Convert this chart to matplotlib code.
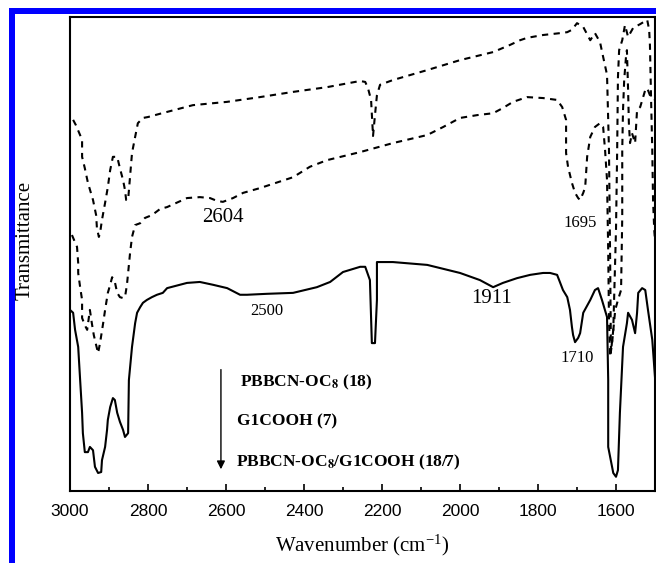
import matplotlib
matplotlib.use('Agg')
import matplotlib.pyplot as plt
from matplotlib.patches import Rectangle
from matplotlib.ticker import MultipleLocator

plt.rcParams['mathtext.fontset'] = 'stix'

# PBBCN-OC8 (top, dashed)
top_wn = [2992, 2985, 2969, 2969, 2962, 2954, 2941, 2933, 2931, 2926, 2923, 2918, 2910, 2903, 2897,
          2890, 2879, 2872, 2864, 2859, 2856, 2851, 2841, 2833, 2826, 2813, 2800, 2764, 2685, 2597,
          2513, 2428, 2341, 2256, 2243, 2236, 2228, 2223, 2218, 2213, 2205, 2172, 2084, 2000, 1915,
          1872, 1846, 1828, 1787, 1743, 1725, 1713, 1700, 1684, 1666, 1654, 1641, 1633, 1623, 1618,
          1615, 1613, 1607, 1600, 1597, 1595, 1592, 1584, 1577, 1569, 1556, 1538, 1520, 1515, 1513,
          1510, 1507, 1505, 1502, 1500]
top_t = [78.3, 77.2, 74.1, 70.5, 68.1, 65.0, 61.4, 58.2, 55.5, 53.6, 54.4, 57.2, 60.8, 64.1, 67.7,
         70.5, 70.5, 68.1, 65.6, 63.5, 61.4, 61.4, 71.3, 74.7, 77.6, 78.7, 78.9, 79.7, 81.4, 82.1,
         83.1, 84.2, 85.2, 86.5, 86.3, 85.0, 82.5, 74.9, 79.3, 83.5, 85.7, 86.7, 88.8, 90.9, 92.6,
         94.1, 95.1, 95.6, 96.2, 96.6, 96.8, 97.3, 98.7, 97.9, 95.1, 96.6, 94.7, 91.6, 87.8, 71.9,
         48.7, 29.3, 34.0, 55.1, 71.9, 87.3, 93.0, 95.1, 98.3, 95.8, 97.7, 98.5, 99.4, 97.3, 94.1,
         82.5, 71.9, 61.4, 55.1, 53.0]

# G1COOH (middle, dashed)
mid_wn = [2995, 2982, 2979, 2979, 2974, 2969, 2969, 2962, 2956, 2949, 2944, 2939, 2933, 2928, 2923,
          2915, 2910, 2903, 2897, 2892, 2885, 2879, 2872, 2864, 2859, 2854, 2851, 2846, 2841, 2833,
          2820, 2808, 2790, 2769, 2751, 2700, 2667, 2641, 2623, 2608, 2582, 2556, 2513, 2428, 2385,
          2341, 2256, 2172, 2084, 2043, 2000, 1956, 1915, 1890, 1864, 1828, 1787, 1751, 1738, 1728,
          1728, 1723, 1713, 1705, 1697, 1692, 1684, 1679, 1674, 1666, 1654, 1641, 1633, 1628, 1623,
          1620, 1618, 1615, 1610, 1602, 1595, 1587, 1584, 1584, 1582, 1579, 1574, 1572, 1569, 1567,
          1564, 1559, 1551, 1546, 1538, 1525, 1520, 1513, 1500]
mid_t = [54.0, 51.5, 48.1, 46.0, 43.0, 40.3, 36.5, 35.0, 34.0, 38.2, 35.4, 32.9, 30.8, 29.1, 31.2,
         35.4, 38.2, 41.8, 43.5, 45.1, 44.1, 41.8, 40.9, 40.7, 40.9, 43.5, 46.0, 50.2, 53.6, 56.1,
         56.5, 57.6, 58.2, 59.5, 59.9, 61.8, 62.0, 61.8, 61.2, 61.0, 61.8, 62.9, 63.9, 66.2, 68.4,
         69.8, 71.5, 73.4, 75.1, 76.8, 78.7, 79.3, 79.7, 80.8, 82.1, 83.1, 82.9, 82.5, 81.0, 78.3,
         71.3, 68.4, 65.0, 62.9, 61.8, 61.4, 62.9, 64.1, 70.5, 74.7, 76.8, 77.6, 76.8, 71.9, 65.6,
         50.8, 36.1, 28.3, 31.2, 38.2, 40.3, 42.4, 57.8, 71.9, 80.4, 86.7, 92.0, 93.0, 84.6, 77.6,
         73.4, 75.5, 73.4, 80.4, 81.0, 84.6, 85.0, 83.5, 82.5]

# PBBCN-OC8/G1COOH (18/7) (bottom, solid)
blend_wn = [3000, 2992, 2987, 2979, 2974, 2969, 2967, 2962, 2954, 2949, 2941, 2936, 2928, 2920, 2918,
            2910, 2905, 2903, 2897, 2890, 2885, 2879, 2872, 2864, 2859, 2851, 2849, 2841, 2833, 2828,
            2820, 2813, 2803, 2790, 2777, 2762, 2751, 2700, 2667, 2633, 2597, 2564, 2546, 2495, 2428,
            2367, 2333, 2300, 2256, 2243, 2231, 2226, 2218, 2213, 2213, 2172, 2084, 2000, 1949, 1915,
            1890, 1854, 1820, 1787, 1769, 1751, 1743, 1736, 1725, 1718, 1713, 1710, 1705, 1697, 1692,
            1684, 1666, 1654, 1646, 1636, 1623, 1620, 1620, 1607, 1600, 1595, 1590, 1582, 1572, 1569,
            1559, 1551, 1546, 1543, 1533, 1525, 1518, 1507, 1500]
blend_t = [38.2, 37.6, 34.0, 30.4, 23.4, 16.5, 12.2, 8.2, 8.2, 9.3, 8.6, 5.1, 3.8, 4.0, 6.5,
           9.3, 12.9, 15.0, 17.7, 19.6, 19.2, 16.5, 14.6, 12.9, 11.4, 12.2, 23.4, 30.4, 35.4, 37.6,
           38.8, 39.7, 40.3, 40.9, 41.4, 41.8, 42.8, 43.9, 44.1, 43.5, 42.8, 41.4, 41.4, 41.6, 41.8,
           43.0, 44.1, 46.2, 47.3, 47.3, 44.5, 31.2, 31.2, 40.3, 48.3, 48.3, 47.7, 46.0, 44.5, 43.0,
           43.9, 44.9, 45.6, 46.0, 46.0, 45.6, 43.9, 42.4, 40.9, 38.2, 34.6, 32.9, 31.4, 32.3, 33.3,
           37.6, 40.3, 42.4, 42.8, 40.3, 36.7, 23.4, 9.3, 3.8, 3.0, 4.4, 16.5, 30.4, 35.4, 37.6,
           36.1, 33.3, 37.6, 41.8, 42.8, 42.4, 38.2, 31.9, 24.0]

peak_labels = ['2604', '1695', '2500', '1911', '1710']
peak_x = [2608, 1692, 2495, 1918, 1700]
peak_y = [57.8, 56.5, 38.0, 40.7, 28.1]
peak_size = [15, 12, 12, 15, 12]

sample_names = ['PBBCN-OC$_{\\mathbf{8}}$ (18)', 'G1COOH (7)',
                'PBBCN-OC$_{\\mathbf{8}}$/G1COOH (18/7)']

serif = 'Liberation Serif'
sans = 'Liberation Sans'

fig = plt.figure(figsize=(6.56, 5.63), dpi=100)
ax = fig.add_axes([70/656, 72/563, 585/656, 474/563])

dash = (0, (3.0, 2.6))
ax.plot(top_wn, top_t, color='black', lw=1.5, linestyle=dash)
ax.plot(mid_wn, mid_t, color='black', lw=1.5, linestyle=dash)
ax.plot(blend_wn, blend_t, color='black', lw=1.5)

ax.set_xlim(3000, 1500)
ax.set_ylim(0, 100)
ax.xaxis.set_major_locator(MultipleLocator(200))
ax.xaxis.set_minor_locator(MultipleLocator(100))
ax.set_yticks([])
ax.tick_params(axis='x', which='major', direction='in', length=5, width=1.2, pad=9)
ax.tick_params(axis='x', which='minor', direction='in', length=3, width=1.2)
for lab in ax.get_xticklabels():
    lab.set_family(sans)
    lab.set_fontsize(12.5)
for sp in ax.spines.values():
    sp.set_linewidth(1.5)

ax.set_xlabel('Wavenumber (cm$^{\\mathregular{-1}}$)', family=serif, fontsize=15, labelpad=10)
fig.text(25/656, 1 - 240/563, 'Transmittance', family=serif, fontsize=15,
         rotation=90, ha='center', va='center')

for s, x, y, fs in zip(peak_labels, peak_x, peak_y, peak_size):
    ax.text(x, y, s, family=serif, fontsize=fs, ha='center', va='center')

for s, (xf, yf) in zip(sample_names, [(0.291, 0.230), (0.285, 0.146), (0.284, 0.061)]):
    ax.text(xf, yf, s, transform=ax.transAxes, family=serif, fontweight='bold',
            fontsize=12.5, ha='left', va='center')
ax.annotate('', xy=(0.258, 0.040), xytext=(0.258, 0.262), xycoords='axes fraction',
            arrowprops=dict(arrowstyle='-|>', color='black', lw=1.0, mutation_scale=12))

# blue frame on left and top
fig.add_artist(Rectangle((9/656, 0), 6/656, 555/563, transform=fig.transFigure,
                         color='#0000ff', lw=0))
fig.add_artist(Rectangle((9/656, 549/563), 647/656, 6/563, transform=fig.transFigure,
                         color='#0000ff', lw=0))

fig.savefig('out.png', dpi=100)
